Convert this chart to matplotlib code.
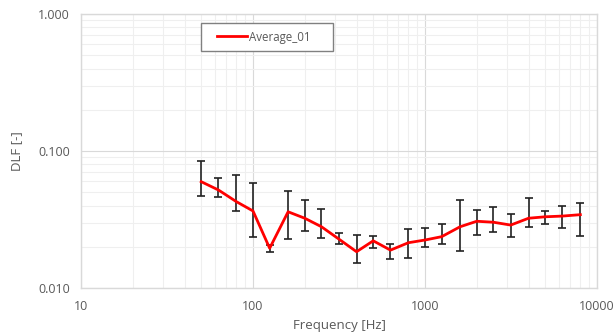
import matplotlib
matplotlib.use("Agg")
import matplotlib.pyplot as plt
from matplotlib.ticker import FixedLocator, FixedFormatter, NullFormatter, LogLocator
from matplotlib.patches import Rectangle
import numpy as np

freq = [50, 63, 80, 100, 125, 160, 200, 250, 315, 400, 500, 630, 800,
        1000, 1250, 1600, 2000, 2500, 3150, 4000, 5000, 6300, 8000]
dlf = [0.0597, 0.0519, 0.0427, 0.0365, 0.0195, 0.0360, 0.0323, 0.0280, 0.0228,
       0.0184, 0.0221, 0.0189, 0.0214, 0.0224, 0.0237, 0.0280, 0.0307, 0.0302,
       0.0288, 0.0323, 0.0331, 0.0335, 0.0343]
dlf_hi = [0.0849, 0.0638, 0.0671, 0.0581, 0.0205, 0.0513, 0.0437, 0.0375, 0.0252,
          0.0243, 0.0241, 0.0211, 0.0268, 0.0273, 0.0292, 0.0439, 0.0371, 0.0392,
          0.0345, 0.0452, 0.0367, 0.0397, 0.0415]
dlf_lo = [0.0470, 0.0464, 0.0367, 0.0236, 0.0183, 0.0228, 0.0262, 0.0232, 0.0208,
          0.0152, 0.0195, 0.0162, 0.0166, 0.0200, 0.0210, 0.0187, 0.0244, 0.0256,
          0.0237, 0.0280, 0.0293, 0.0275, 0.0240]
series_name = "Average_01"
x_ticks = [10, 100, 1000, 10000]
x_ticklabels = ["10", "100", "1000", "10000"]
y_ticks = [0.01, 0.1, 1.0]
y_ticklabels = ["0.010", "0.100", "1.000"]

plt.rcParams['font.family'] = ['Open Sans', 'DejaVu Sans']
txt = '#595959'

W, H = 615, 336
L, R, T, B = 81, 597, 14, 288
fig = plt.figure(figsize=(W/100, H/100), dpi=100)
ax = fig.add_axes([L/W, 1-B/H, (R-L)/W, (B-T)/H])
ax.set_xscale('log')
ax.set_yscale('log')
ax.set_xlim(10, 10000)
ax.set_ylim(0.01, 1.0)

d = np.array(dlf)
yerr = np.vstack([d - np.array(dlf_lo), np.array(dlf_hi) - d])
ax.errorbar(freq, dlf, yerr=yerr, fmt='none', ecolor='#222222', elinewidth=1.2,
            capsize=2.7, capthick=1.2, zorder=2)
ax.plot(freq, dlf, color='#ff0000', lw=2.0, label=series_name, zorder=3)

ax.xaxis.set_major_locator(FixedLocator(x_ticks))
ax.xaxis.set_major_formatter(FixedFormatter(x_ticklabels))
ax.yaxis.set_major_locator(FixedLocator(y_ticks))
ax.yaxis.set_major_formatter(FixedFormatter(y_ticklabels))
ax.xaxis.set_minor_locator(LogLocator(base=10, subs=np.arange(2, 10)))
ax.yaxis.set_minor_locator(LogLocator(base=10, subs=np.arange(2, 10)))
ax.xaxis.set_minor_formatter(NullFormatter())
ax.yaxis.set_minor_formatter(NullFormatter())

ax.grid(which='major', color='#d9d9d9', lw=0.8)
ax.grid(which='minor', color='#efefef', lw=0.8)
ax.set_axisbelow(True)
ax.tick_params(which='both', length=0, labelsize=9, labelcolor=txt)
ax.tick_params(axis='x', pad=9)
ax.tick_params(axis='y', pad=8)
for s in ax.spines.values():
    s.set_color('#d9d9d9')
    s.set_linewidth(1.0)

ax.set_xlabel('Frequency [Hz]', fontsize=9.5, color=txt, labelpad=4)
ax.set_ylabel('DLF [-]', fontsize=9.5, color=txt, labelpad=11)

def ax_x(px):
    return (px - L) / (R - L)
def ax_y(py):
    return (B - py) / (B - T)

leg = ax.legend(loc='center left', bbox_to_anchor=(ax_x(217), ax_y(37)),
                frameon=False, prop={'size': 8.3}, handlelength=2.6,
                borderpad=0, handletextpad=0.2, borderaxespad=0)
for t in leg.get_texts():
    t.set_color(txt)
frame = Rectangle((ax_x(200.5), ax_y(51)), ax_x(333) - ax_x(200.5), ax_y(23) - ax_y(51),
                  transform=ax.transAxes, facecolor='white', edgecolor='#808080',
                  lw=1.0, zorder=4)
ax.add_patch(frame)
leg.set_zorder(5)

fig.savefig('out.png', dpi=100)
